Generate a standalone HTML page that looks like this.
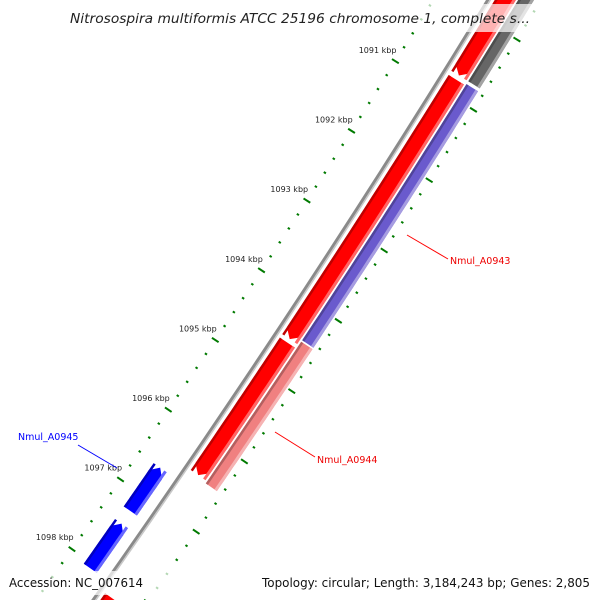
<!DOCTYPE html>
<html><head><meta charset="utf-8"><style>
html,body{margin:0;padding:0;background:#fff;width:600px;height:600px;overflow:hidden;}
svg{display:block;}
</style></head><body>
<svg id="map" width="600" height="600" viewBox="0 0 600 600" xmlns="http://www.w3.org/2000/svg" font-family="DejaVu Sans, Liberation Sans, sans-serif">
<g id="tracks"></g>
<g id="ticks"></g>
<g id="labels">
  <line x1="78" y1="445" x2="117" y2="468" stroke="#0000ff" stroke-width="1"/>
  <text x="18" y="440" font-size="9.5" fill="#0000ff">Nmul_A0945</text>
  <line x1="407" y1="235" x2="448" y2="259" stroke="#ff0000" stroke-width="1"/>
  <text x="450" y="264" font-size="9.5" fill="#ee0000">Nmul_A0943</text>
  <line x1="275" y1="432" x2="315" y2="457" stroke="#ff0000" stroke-width="1"/>
  <text x="317" y="463" font-size="9.5" fill="#ee0000">Nmul_A0944</text>
</g>
<rect x="62" y="4" width="478" height="28" fill="#fff" fill-opacity="0.7"/>
<text x="300" y="23" text-anchor="middle" font-size="13" font-style="italic" fill="#222" textLength="460" lengthAdjust="spacingAndGlyphs">Nitrosospira multiformis ATCC 25196 chromosome 1, complete s...</text>
<rect x="0" y="571" width="600" height="24" fill="#fff" fill-opacity="0.7"/>
<text x="9" y="587" font-size="12.5" fill="#111" textLength="134" lengthAdjust="spacingAndGlyphs">Accession: NC_007614</text>
<text x="590" y="587" text-anchor="end" font-size="12.5" fill="#111" textLength="328" lengthAdjust="spacingAndGlyphs">Topology: circular; Length: 3,184,243 bp; Genes: 2,805</text>
</svg>
<script>
var tickLabels = [1091,1092,1093,1094,1095,1096,1097,1098];
var geneNames = ['fwd-upper','nmul-a0943-fwd','fwd-lower','fwd-bottom','rev-gray','nmul-a0943','nmul-a0944','nmul-a0945-a','nmul-a0945-b'];
var geneStarts = [1085.0, 1090.80, 1094.55, 1098.20, 1085.0, 1090.78, 1094.45, 1096.62, 1097.42];
var geneEnds   = [1090.74, 1094.50, 1096.44, 1100.0, 1090.74, 1094.43, 1096.47, 1097.24, 1098.06];
var geneStrand = [1,1,1,1,-1,-1,-1,-1,-1];
var geneTrack  = ['fwd','fwd','fwd','fwd','rev','rev','rev','outer','outer'];
var geneColor  = ['#ff0000','#ff0000','#ff0000','#ff0000','#666666','#6a5acd','#f08080','#0000ff','#0000ff'];
var geneArrow  = [1,1,1,0,0,0,0,1,1];

var NS='http://www.w3.org/2000/svg';
function yOf(k){return 85+(k-1091)*70;}
function P(k,d){
  var y0=yOf(k);
  var x0=486-0.61*y0-0.00008*y0*y0;
  var s=-0.61-0.00016*y0, n=Math.sqrt(1+s*s);
  return [x0+d/n, y0-d*s/n];
}
var trackD={fwd:[7.5,25.5],rev:[27.5,41],outer:[-27,-11]};
function shade(c,f){
  var r=parseInt(c.substr(1,2),16),g=parseInt(c.substr(3,2),16),b=parseInt(c.substr(5,2),16);
  function m(v){return Math.max(0,Math.min(255,Math.round(f>0?v+(255-v)*f:v*(1+f))));}
  return 'rgb('+m(r)+','+m(g)+','+m(b)+')';
}
function poly(pts){return pts.map(function(p){return p[0].toFixed(1)+','+p[1].toFixed(1);}).join(' ');}
function band(k1,k2,d1,d2,arrowDir,arrow){
  var a=0.1, pts=[], ks=k1, ke=k2, N=30, i, k;
  if(arrow&&arrowDir>0) ke=k2-a;
  if(arrow&&arrowDir<0) ks=k1+a;
  var dc=(d1+d2)/2;
  if(arrow&&arrowDir<0) pts.push(P(k1,dc));
  for(i=0;i<=N;i++){k=ks+(ke-ks)*i/N;pts.push(P(k,d1));}
  if(arrow&&arrowDir>0) pts.push(P(k2,dc));
  for(i=N;i>=0;i--){k=ks+(ke-ks)*i/N;pts.push(P(k,d2));}
  return poly(pts);
}
var tg=document.getElementById('tracks');
(function(){
  var specs=[[0,3,'#8a8a8a'],[3,4.5,'#c8c8c8']];
  specs.forEach(function(sp,j){
    var el=document.createElementNS(NS,'polygon');
    
    
    el.setAttribute('points',band(1084,1100.5,sp[0],sp[1],0,0));
    el.setAttribute('fill',sp[2]);
    tg.appendChild(el);
  });
})();
for(var i=0;i<geneNames.length;i++){
  var d=trackD[geneTrack[i]], c=geneColor[i];
  var g=document.createElementNS(NS,'g');
  
  
  var layers=[[d[0],d[1],c],[d[0],d[0]+2.5,shade(c,-0.25)],[d[1]-3,d[1],shade(c,0.4)]];
  for(var j=0;j<layers.length;j++){
    var el=document.createElementNS(NS,'polygon');
    
    
    el.setAttribute('points',band(geneStarts[i],geneEnds[i],layers[j][0],layers[j][1],geneStrand[i],j==0?geneArrow[i]:0));
    el.setAttribute('fill',layers[j][2]);
    g.appendChild(el);
  }
  tg.appendChild(g);
}
var kg=document.getElementById('ticks');
function tick(k,d,len,w,name){
  var a=P(k,d-len/2), b=P(k,d+len/2);
  var el=document.createElementNS(NS,'line');
  
  
  el.setAttribute('x1',a[0]);el.setAttribute('y1',a[1]);
  el.setAttribute('x2',b[0]);el.setAttribute('y2',b[1]);
  el.setAttribute('stroke','#007a00');el.setAttribute('stroke-width',w);
  kg.appendChild(el);
}
for(var n=0;n<=60;n++){
  var k=1087+n*0.2;
  var major=Math.abs(k-Math.round(k))<0.01;
  tick(k,-45,major?8:2.5,2,major?'major-tick-outer':'minor-tick-outer');
  tick(k,47,major?8:2.5,2,major?'major-tick-inner':'minor-tick-inner');
}
tickLabels.forEach(function(v){
  var p=P(v,-66);
  var t=document.createElementNS(NS,'text');
  
  
  t.setAttribute('x',p[0]);t.setAttribute('y',p[1]+3);
  t.setAttribute('text-anchor','middle');t.setAttribute('font-size','8');t.setAttribute('fill','#222');
  t.textContent=v+' kbp';
  kg.appendChild(t);
});
</script>
</body></html>
